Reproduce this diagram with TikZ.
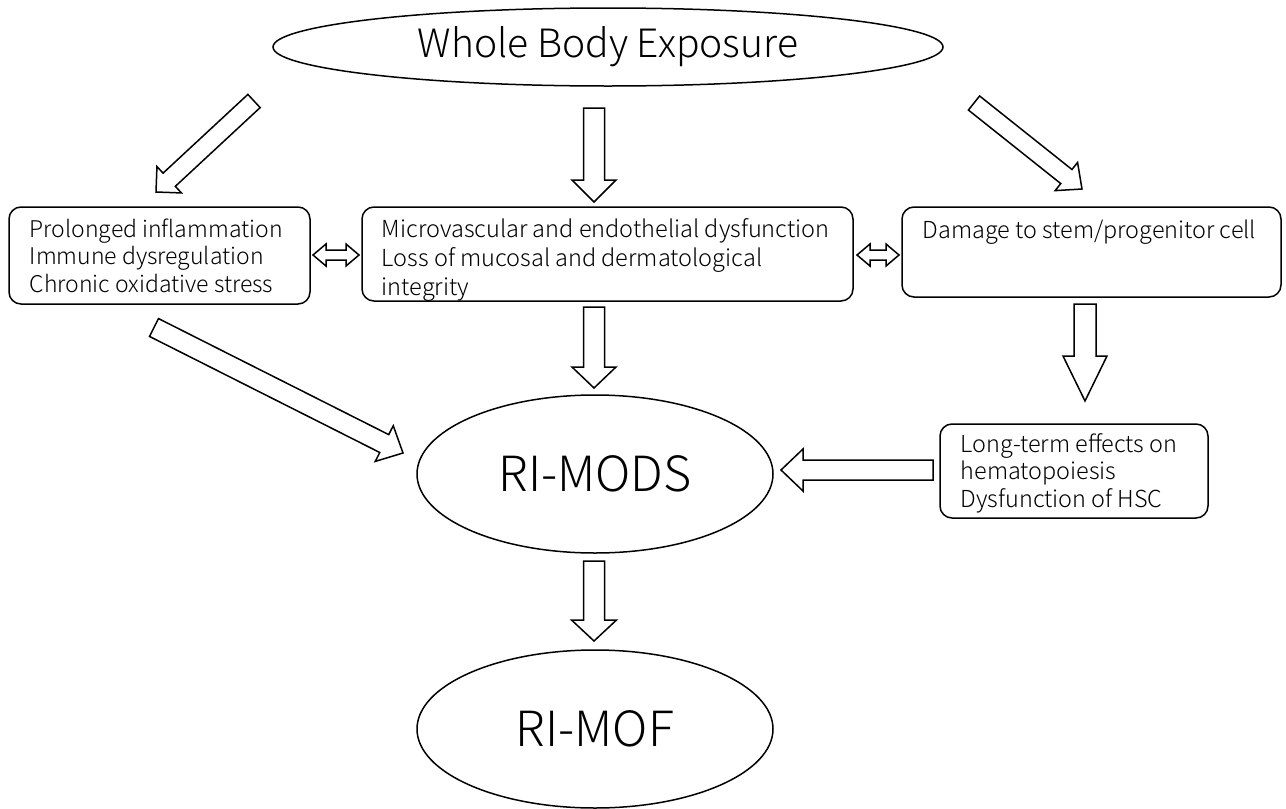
\documentclass[tikz,border=0pt]{standalone}
\usepackage{fontspec}
\setmainfont{Noto Sans CJK JP Light}
\usetikzlibrary{calc,shapes.geometric}
% block arrow: #1 start coord, #2 end coord, #3 shaft half width, #4 head half width, #5 head length
\newcommand\blockarrow[5]{%
  \draw[barr] let \p1=($(#2)-(#1)$), \n1={veclen(\x1,\y1)}, \p2=(#1),
    \n3={\x1/\n1}, \n4={\y1/\n1}, \n5={\n1-#5} in
    ({\x2-#3*\n4},{\y2+#3*\n3}) --
    ({\x2+\n5*\n3-#3*\n4},{\y2+\n5*\n4+#3*\n3}) --
    ({\x2+\n5*\n3-#4*\n4},{\y2+\n5*\n4+#4*\n3}) --
    ({\x2+\n1*\n3},{\y2+\n1*\n4}) --
    ({\x2+\n5*\n3+#4*\n4},{\y2+\n5*\n4-#4*\n3}) --
    ({\x2+\n5*\n3+#3*\n4},{\y2+\n5*\n4-#3*\n3}) --
    ({\x2+#3*\n4},{\y2-#3*\n3}) -- cycle;}
% double block arrow
\newcommand\dblarrow[5]{%
  \draw[barr] let \p1=($(#2)-(#1)$), \n1={veclen(\x1,\y1)}, \p2=(#1),
    \n3={\x1/\n1}, \n4={\y1/\n1}, \n5={\n1-#5} in
    (\p2) --
    ({\x2+#5*\n3-#4*\n4},{\y2+#5*\n4+#4*\n3}) --
    ({\x2+#5*\n3-#3*\n4},{\y2+#5*\n4+#3*\n3}) --
    ({\x2+\n5*\n3-#3*\n4},{\y2+\n5*\n4+#3*\n3}) --
    ({\x2+\n5*\n3-#4*\n4},{\y2+\n5*\n4+#4*\n3}) --
    ({\x2+\n1*\n3},{\y2+\n1*\n4}) --
    ({\x2+\n5*\n3+#4*\n4},{\y2+\n5*\n4-#4*\n3}) --
    ({\x2+\n5*\n3+#3*\n4},{\y2+\n5*\n4-#3*\n3}) --
    ({\x2+#5*\n3+#3*\n4},{\y2+#5*\n4-#3*\n3}) --
    ({\x2+#5*\n3+#4*\n4},{\y2+#5*\n4-#4*\n3}) -- cycle;}
\begin{document}
\begin{tikzpicture}[x=1pt,y=-1pt,line width=1.5pt,
  box/.style={draw,rounded corners=12pt,inner sep=0pt},
  oval/.style={draw,ellipse,inner sep=0pt},
  barr/.style={draw,line width=1.5pt,line join=miter,fill=white},
  txt/.style={inner sep=0pt,anchor=base west,font=\fontsize{23.4}{27.5}\selectfont}]
\useasboundingbox (0,0) rectangle (1286,809);

% ellipses
\node[oval,minimum width=670pt,minimum height=78pt,font=\fontsize{39}{45}\selectfont] (wbe) at (608,47) {Whole Body Exposure};
\node[oval,minimum width=356pt,minimum height=158pt,font=\fontsize{48.5}{56}\selectfont] (mods) at (595,474) {RI-MODS};
\node[oval,minimum width=356pt,minimum height=158pt,font=\fontsize{48.5}{56}\selectfont] (mof) at (595,729) {RI-MOF};

% boxes
\node[box,minimum width=301pt,minimum height=97pt] (b1) at (159.5,255.5) {};
\node[box,minimum width=491pt,minimum height=94pt] (b2) at (607.5,254) {};
\node[box,minimum width=379pt,minimum height=90pt] (b3) at (1091.5,252) {};
\node[box,minimum width=268pt,minimum height=94pt] (b4) at (1074,471) {};

\node[txt,font=\fontsize{23}{27.5}\selectfont] (t1) at (29,237) {\begin{tabular}[t]{@{}l@{}}Prolonged inflammation\\Immune dysregulation\\Chronic oxidative stress\end{tabular}};
\node[txt,font=\fontsize{23.5}{29}\selectfont] (t2) at (381,237) {\begin{tabular}[t]{@{}l@{}}Microvascular and endothelial dysfunction\\Loss of mucosal and dermatological\\integrity\end{tabular}};
\node[txt] (t3) at (922,238) {Damage to stem/progenitor cell};
\node[txt] (t4) at (960,452) {\begin{tabular}[t]{@{}l@{}}Long-term effects on\\hematopoiesis\\Dysfunction of HSC\end{tabular}};

% arrow end points
\coordinate (a1s) at (254,101); \coordinate (a1e) at (156,192);
\coordinate (a2s) at (594,108); \coordinate (a2e) at (594,202);
\coordinate (a3s) at (974,103); \coordinate (a3e) at (1082,189);
\coordinate (d1s) at (313,255); \coordinate (d1e) at (359,255);
\coordinate (d2s) at (857,255); \coordinate (d2e) at (899,255);
\coordinate (a4s) at (594,307); \coordinate (a4e) at (594,388);
\coordinate (a5s) at (1085,304); \coordinate (a5e) at (1085,401);
\coordinate (a6s) at (933,470); \coordinate (a6e) at (781,470);
\coordinate (a7s) at (154,327.5); \coordinate (a7e) at (403,453);
\coordinate (a8s) at (594,561); \coordinate (a8e) at (594,641);

\blockarrow{a1s}{a1e}{9}{18}{18}
\blockarrow{a2s}{a2e}{10.5}{22}{22}
\blockarrow{a3s}{a3e}{9}{18}{20}
\dblarrow{d1s}{d1e}{5}{11}{13}
\dblarrow{d2s}{d2e}{5}{11}{13}
\blockarrow{a4s}{a4e}{10.5}{22}{21}
\blockarrow{a5s}{a5e}{11}{22}{45}
\blockarrow{a6s}{a6e}{10}{21}{22}
\blockarrow{a7s}{a7e}{10}{20}{21}
\blockarrow{a8s}{a8e}{10.5}{22.5}{21}
\end{tikzpicture}
\end{document}
